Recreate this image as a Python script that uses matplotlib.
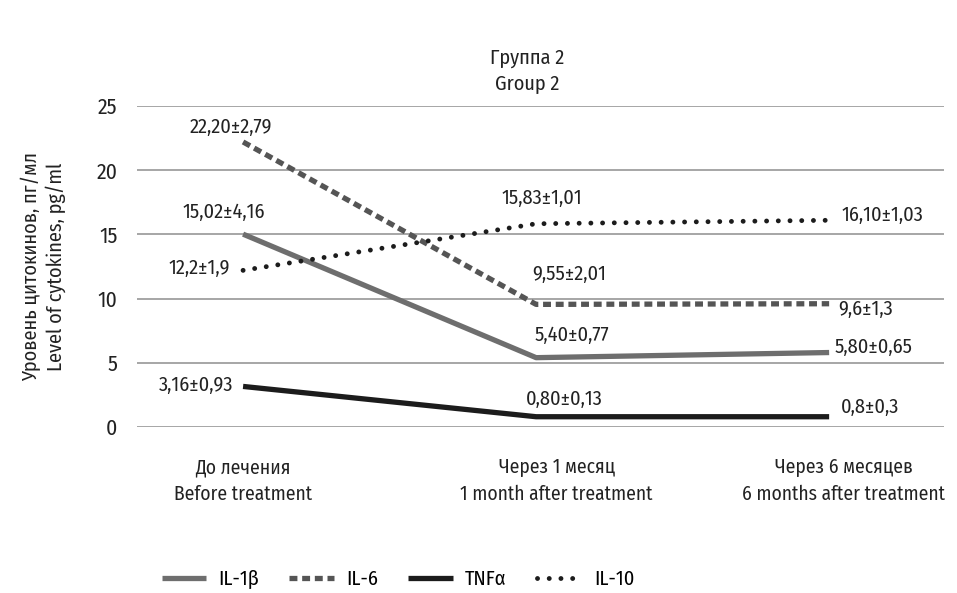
import matplotlib
matplotlib.use("Agg")
import matplotlib.pyplot as plt
from matplotlib import font_manager, ft2font
import numpy as np

# narrow font with Cyrillic and Greek if one is installed, else Arial-like Liberation Sans
def covers(path, chars='ГруппаЦβα±'):
    try:
        cmap = ft2font.FT2Font(path).get_charmap()
    except Exception:
        return False
    return all(ord(c) in cmap for c in chars)

cands = sorted({(f.name, f.fname) for f in font_manager.fontManager.ttflist
                if ('Narrow' in f.name or 'Condensed' in f.name) and f.weight in (400, 'normal')
                and f.style == 'normal'})
narrow = [n for n, p in cands if covers(p)]
fam = narrow[0] if narrow else 'Liberation Sans'
plt.rcParams['font.family'] = [fam, 'DejaVu Sans']
fs = 14.6 if narrow else 12.5

categories = ['До лечения\nBefore treatment',
              'Через 1 месяц\n1 month after treatment',
              'Через 6 месяцев\n6 months after treatment']
il1b = [15.02, 5.40, 5.80]
il6 = [22.20, 9.55, 9.6]
tnfa = [3.16, 0.80, 0.8]
il10 = [12.2, 15.83, 16.10]
il1b_lbl = ['15,02±4,16', '5,40±0,77', '5,80±0,65']
il6_lbl = ['22,20±2,79', '9,55±2,01', '9,6±1,3']
tnfa_lbl = ['3,16±0,93', '0,80±0,13', '0,8±0,3']
il10_lbl = ['12,2±1,9', '15,83±1,01', '16,10±1,03']

x = np.arange(len(categories))
fig = plt.figure(figsize=(9.57, 5.93), dpi=100)
ax = fig.add_axes([137/957, 1-427/593, (944-137)/957, (427-106)/593])

ax.plot(x, il1b, color='#6e6e6e', lw=3.8, solid_capstyle='butt', label='IL-1β')
ax.plot(x, il6, color='#555555', lw=3.8, ls=(0, (1.5, 0.9)), dash_capstyle='butt', label='IL-6')
ax.plot(x, tnfa, color='#1c1c1c', lw=3.8, solid_capstyle='butt', label='TNFα')
ax.plot(x, il10, color='#1c1c1c', lw=3.5, ls=(0, (0.01, 2.4)), dash_capstyle='round', label='IL-10')

def lab(txt, xi, yi, dx, dy, ha='center'):
    ax.annotate(txt, (xi, yi), xytext=(dx, dy), textcoords='offset pixels',
                ha=ha, va='center', fontsize=fs, color='#222222')

# first point
lab(il6_lbl[0], 0, il6[0], -12, 15)
lab(il1b_lbl[0], 0, il1b[0], -19, 22)
lab(il10_lbl[0], 0, il10[0], -13, 2, 'right')
lab(tnfa_lbl[0], 0, tnfa[0], -10, 1, 'right')
# middle point
lab(il10_lbl[1], 1, il10[1], 6, 25)
lab(il6_lbl[1], 1, il6[1], 33, 30)
lab(il1b_lbl[1], 1, il1b[1], 36, 22)
lab(tnfa_lbl[1], 1, tnfa[1], 28, 17)
# last point
lab(il10_lbl[2], 2, il10[2], 12, 5, 'left')
lab(il6_lbl[2], 2, il6[2], 9, -6, 'left')
lab(il1b_lbl[2], 2, il1b[2], 5, 5, 'left')
lab(tnfa_lbl[2], 2, tnfa[2], 12, 9, 'left')

ax.set_ylim(0, 25)
ax.set_xlim(-0.362, 2.392)
ax.set_yticks([0, 5, 10, 15, 20, 25])
ax.yaxis.grid(True, color='#a6a6a6', lw=1.4)
ax.set_axisbelow(True)
for s in ax.spines.values():
    s.set_visible(False)
ax.tick_params(axis='y', length=0, pad=14, labelsize=fs + 1, labelcolor='#222222')
ax.set_xticks([0, 1.07, 2.05])
ax.set_xticklabels(categories, fontsize=fs - 0.6, color='#222222', linespacing=1.5)
ax.tick_params(axis='x', length=0, pad=22)

ax.set_ylabel('Уровень цитокинов, пг/мл\nLevel of cytokines, pg/ml', fontsize=fs,
              color='#222222', labelpad=22, linespacing=1.25)
fig.text(527/957, 1-71/593, 'Группа 2\nGroup 2', ha='center', va='center',
         fontsize=fs, color='#222222', linespacing=1.4)

ax.legend(loc='center', bbox_to_anchor=(398/957, 1-579/593), bbox_transform=fig.transFigure,
          ncol=4, frameon=False, fontsize=fs, handlelength=2.2, columnspacing=1.5,
          handletextpad=0.6)

fig.savefig('out.png', dpi=100)
